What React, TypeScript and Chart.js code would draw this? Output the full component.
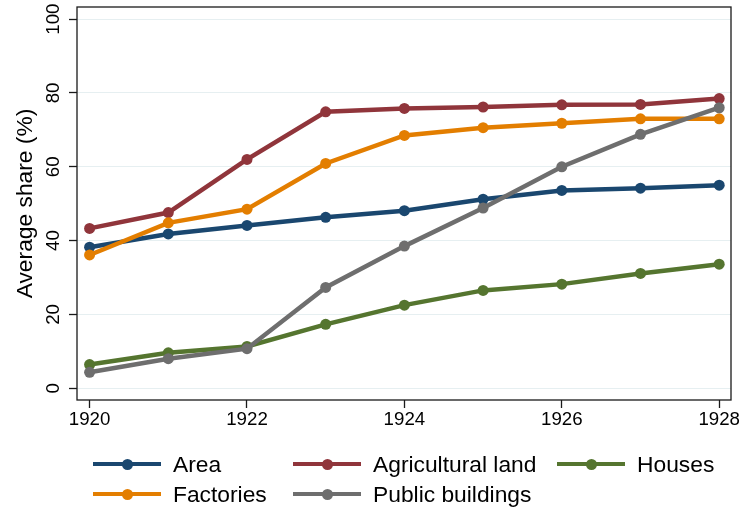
import React, { useEffect, useRef } from "react";
import { Chart, registerables } from "chart.js";

Chart.register(...registerables);

const years = [1920, 1921, 1922, 1923, 1924, 1925, 1926, 1927, 1928];
const area = [38.2, 41.8, 44.1, 46.3, 48.1, 51.2, 53.6, 54.2, 55.0];
const agriculturalLand = [43.3, 47.6, 62.0, 74.9, 75.8, 76.2, 76.8, 76.9, 78.5];
const houses = [6.4, 9.6, 11.3, 17.3, 22.5, 26.5, 28.2, 31.1, 33.6];
const factories = [36.1, 44.8, 48.5, 60.9, 68.5, 70.6, 71.8, 73.0, 73.0];
const publicBuildings = [4.3, 8.0, 10.7, 27.3, 38.5, 48.8, 60.0, 68.8, 76.0];

const seriesNames = ["Area", "Agricultural land", "Houses", "Factories", "Public buildings"];
const seriesValues = [area, agriculturalLand, houses, factories, publicBuildings];
const seriesColors = ["#1a476f", "#90353b", "#55752f", "#e37e00", "#6e6e6e"];

const xTickValues = [1920, 1922, 1924, 1926, 1928];
const yTickValues = [0, 20, 40, 60, 80, 100];
const yTitle = "Average share (%)";

const FONT = '"Liberation Sans", Arial, Helvetica, sans-serif';

const framePlugin = {
  id: "frame",
  beforeDatasetsDraw(chart: any) {
    const { ctx, chartArea } = chart;
    ctx.save();
    ctx.strokeStyle = "#1a1a1a";
    ctx.lineWidth = 1.3;
    ctx.strokeRect(chartArea.left, chartArea.top, chartArea.right - chartArea.left, chartArea.bottom - chartArea.top);
    ctx.restore();
  },
};

export default function App() {
  const canvasRef = useRef<HTMLCanvasElement | null>(null);

  useEffect(() => {
    if (!canvasRef.current) return;
    const chart = new Chart(canvasRef.current, {
      type: "line",
      data: {
        datasets: seriesNames.map((name, i) => ({
          label: name,
          data: years.map((y, j) => ({ x: y, y: seriesValues[i][j] })),
          borderColor: seriesColors[i],
          backgroundColor: seriesColors[i],
          borderWidth: 4.5,
          pointRadius: 5.5,
          pointBorderWidth: 0,
          pointBackgroundColor: seriesColors[i],
          tension: 0,
          order: seriesNames.length - i,
        })),
      },
      options: {
        animation: false,
        responsive: false,
        devicePixelRatio: 1,
        layout: { padding: { top: 7, right: 10, left: 0, bottom: 0 } },
        plugins: { legend: { display: false }, tooltip: { enabled: false } },
        scales: {
          x: {
            type: "linear",
            min: 1919.84,
            max: 1928.15,
            afterBuildTicks: (scale: any) => {
              scale.ticks = xTickValues.map((v) => ({ value: v }));
            },
            afterFit: (scale: any) => {
              scale.height = 112;
              scale.paddingLeft = 0;
              scale.paddingRight = 0;
            },
            border: { display: false },
            grid: {
              drawOnChartArea: false,
              drawTicks: true,
              tickLength: 8,
              tickColor: "#1a1a1a",
              tickWidth: 1.3,
            },
            ticks: {
              color: "#000",
              font: { family: FONT, size: 18.7 },
              padding: 1,
              maxRotation: 0,
              minRotation: 0,
              callback: (v: any) => String(v),
            },
          },
          y: {
            type: "linear",
            min: -3.2,
            max: 103.3,
            afterBuildTicks: (scale: any) => {
              scale.ticks = yTickValues.map((v) => ({ value: v }));
            },
            afterFit: (scale: any) => {
              scale.width = 77;
              scale.paddingTop = 0;
              scale.paddingBottom = 0;
            },
            border: { display: false },
            grid: {
              color: "#e6eff1",
              lineWidth: 1,
              drawTicks: true,
              tickLength: 8,
              tickColor: "#1a1a1a",
              tickWidth: 1.3,
            },
            ticks: {
              color: "#000",
              font: { family: FONT, size: 18.7 },
              padding: 0,
              minRotation: 90,
              maxRotation: 90,
              crossAlign: "center",
              callback: (v: any) => String(v),
            },
            title: {
              display: true,
              text: yTitle,
              color: "#000",
              font: { family: FONT, size: 22.8 },
              padding: { top: 12, bottom: 0 },
            },
          },
        },
      },
      plugins: [framePlugin],
    } as any);
    return () => chart.destroy();
  }, []);

  return (
    <div
      style={{
        position: "fixed",
        left: 0,
        top: 0,
        width: 741,
        height: 512,
        background: "#fff",
        overflow: "hidden",
      }}
    >
      <canvas ref={canvasRef} width={741} height={512} style={{ display: "block" }} />
      <div
        style={{
          position: "absolute",
          left: 93,
          top: 449,
          display: "grid",
          gridTemplateColumns: "200px 264px auto",
          gridAutoRows: "30px",
          fontFamily: FONT,
          fontSize: 22.8,
          color: "#000",
          whiteSpace: "nowrap",
        }}
      >
        {seriesNames.map((name, i) => (
          <div key={name} style={{ display: "flex", alignItems: "center" }}>
            <span
              style={{
                position: "relative",
                display: "inline-block",
                width: 68,
                height: 4.5,
                background: seriesColors[i],
                marginRight: 12,
                flex: "none",
              }}
            >
              <span
                style={{
                  position: "absolute",
                  left: 28.5,
                  top: -3.25,
                  width: 11,
                  height: 11,
                  borderRadius: "50%",
                  background: seriesColors[i],
                }}
              />
            </span>
            <span>{name}</span>
          </div>
        ))}
      </div>
    </div>
  );
}
